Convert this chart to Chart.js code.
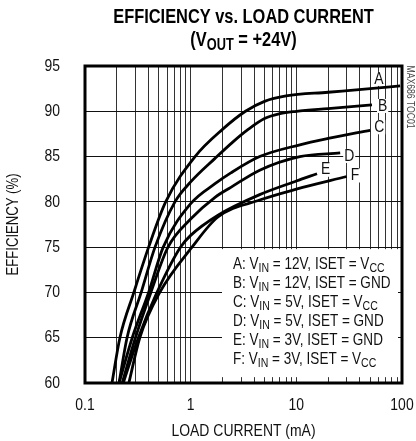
<!DOCTYPE html>
<html>
<head>
<meta charset="utf-8">
<script src="https://cdn.jsdelivr.net/npm/chart.js@4.4.0/dist/chart.umd.min.js"></script>
<style>
  html, body { margin: 0; padding: 0; background: #fff; }
  #wrap { width: 416px; height: 441px; }
</style>
</head>
<body>
<div id="wrap"><canvas id="c"></canvas></div>
<script>
const FONT = '"Liberation Sans", Arial, sans-serif';
const NARROW = 0.82; // squeeze to look like Arial Narrow

// load current (mA) / efficiency (%) per curve
const currentA = [0.18, 0.214, 0.29, 0.4, 0.58, 1.1, 2, 3.3, 5, 8, 20, 50, 96];
const effA     = [60, 65, 70, 75, 80, 85, 88.0, 90.0, 91.1, 91.7, 92.1, 92.5, 92.8];
const currentB = [0.21, 0.25, 0.34, 0.46, 0.71, 1.0, 1.7, 2.5, 3.5, 5, 7, 10, 20, 52];
const effB     = [60, 65, 70, 75, 80, 82.2, 84.8, 86.6, 88.0, 89.2, 89.75, 90.0, 90.3, 90.7];
const currentC = [0.21, 0.28, 0.4, 0.55, 1.0, 1.7, 2.4, 4.5, 10.8, 20, 50];
const effC     = [60, 65, 70, 75, 79.8, 82.0, 83.2, 85.0, 86.3, 87.0, 87.9];
const currentD = [0.225, 0.3, 0.42, 0.61, 1.0, 1.7, 2.4, 4.5, 10.8, 26];
const effD     = [60, 65, 70, 75, 78.1, 80.5, 81.6, 83.5, 85.0, 85.4];
const currentE = [0.23, 0.32, 0.48, 0.8, 1.0, 1.8, 4.5, 10, 15.7];
const effE     = [60, 65, 70, 75, 76.3, 78.5, 80.8, 82.3, 83.1];
const currentF = [0.26, 0.33, 0.51, 1.03, 1.8, 4.5, 10, 30];
const effF     = [60, 65, 70, 75, 78.3, 80.2, 81.4, 82.8];

const curveNames = ['A', 'B', 'C', 'D', 'E', 'F'];
const legendLines = [
  [['A: V'], ['IN', 1], [' = 12V, ISET = V'], ['CC', 1]],
  [['B: V'], ['IN', 1], [' = 12V, ISET = GND']],
  [['C: V'], ['IN', 1], [' = 5V, ISET = V'], ['CC', 1]],
  [['D: V'], ['IN', 1], [' = 5V, ISET = GND']],
  [['E: V'], ['IN', 1], [' = 3V, ISET = GND']],
  [['F: V'], ['IN', 1], [' = 3V, ISET = V'], ['CC', 1]]
];

const yTicks = [60, 65, 70, 75, 80, 85, 90, 95];
const xTickLabels = [0.1, 1, 10, 100];

// label offsets from the end of each curve (px)
const letterOffsets = [[-26, -7], [6, 1], [4, -3], [4, 3], [4, -4], [4, -1]];

const series = [
  [currentA, effA], [currentB, effB], [currentC, effC],
  [currentD, effD], [currentE, effE], [currentF, effF]
];

const gridValues = [];
for (let e = -1; e < 2; e++) {
  for (let m = 1; m < 10; m++) gridValues.push(+(m * Math.pow(10, e)).toFixed(3));
}
gridValues.push(100);

function rich(ctx, parts, x, y, size, bold, align, baseline) {
  const f = s => (bold ? 'bold ' : '') + s + 'px ' + FONT;
  let w = 0;
  parts.forEach(p => { ctx.font = f(p[1] ? size * 0.78 : size); w += ctx.measureText(p[0]).width; });
  ctx.save();
  ctx.translate(x, y);
  ctx.scale(NARROW, 1);
  let cx = align === 'center' ? -w / 2 : align === 'right' ? -w : 0;
  ctx.textAlign = 'left';
  ctx.textBaseline = baseline || 'alphabetic';
  parts.forEach(p => {
    ctx.font = f(p[1] ? size * 0.78 : size);
    ctx.fillText(p[0], cx, p[1] ? size * 0.2 : 0);
    cx += ctx.measureText(p[0]).width;
  });
  ctx.restore();
  return w * NARROW;
}

const decor = {
  id: 'decor',
  beforeDatasetsDraw(chart) {
    const { ctx, chartArea: a, scales: { x, y } } = chart;
    ctx.save();
    // legend box
    ctx.fillStyle = '#fff';
    ctx.fillRect(a.left + 137, y.getPixelForValue(75) + 2, 176, 128);
    ctx.fillStyle = '#111';
    legendLines.forEach((ln, i) => rich(ctx, ln, a.left + 148, 269 + i * 19, 16.5, false));
    // curve letters
    ctx.font = '17px ' + FONT;
    series.forEach((s, i) => {
      const n = s[0].length - 1;
      const px = x.getPixelForValue(s[0][n]) + letterOffsets[i][0];
      const py = y.getPixelForValue(s[1][n]) + letterOffsets[i][1];
      const w = ctx.measureText(curveNames[i]).width * NARROW;
      ctx.fillStyle = '#fff';
      ctx.fillRect(px - 1, py - 7, w + 2, 14);
      ctx.fillStyle = '#111';
      rich(ctx, [[curveNames[i]]], px, py, 17, false, 'left', 'middle');
    });
    ctx.restore();
  },
  afterDraw(chart) {
    const { ctx, chartArea: a, scales: { x, y } } = chart;
    ctx.save();
    ctx.strokeStyle = '#000';
    ctx.lineWidth = 3;
    ctx.strokeRect(a.left, a.top, a.right - a.left, a.bottom - a.top);
    ctx.fillStyle = '#111';
    // tick labels from the scales
    y.ticks.forEach(t => rich(ctx, [[String(t.value)]], 60, y.getPixelForValue(t.value), 17, false, 'right', 'middle'));
    x.ticks.filter(t => xTickLabels.some(v => Math.abs(v - t.value) < 1e-9))
      .forEach(t => rich(ctx, [[String(t.value)]], x.getPixelForValue(t.value), 410, 17, false, 'center'));
    const cx = (a.left + a.right) / 2;
    ctx.fillStyle = '#000';
    rich(ctx, [['EFFICIENCY vs. LOAD CURRENT']], cx, 23, 20, true, 'center');
    rich(ctx, [['(V'], ['OUT', 1], [' = +24V)']], cx, 46, 20, true, 'center');
    ctx.fillStyle = '#111';
    rich(ctx, [['LOAD CURRENT (mA)']], cx, 436, 17, false, 'center');
    ctx.save();
    ctx.translate(18, (a.top + a.bottom) / 2);
    ctx.rotate(-Math.PI / 2);
    rich(ctx, [['EFFICIENCY (%)']], 0, 0, 16, false, 'center');
    ctx.restore();
    ctx.save();
    ctx.translate(407, 97);
    ctx.rotate(Math.PI / 2);
    ctx.fillStyle = '#444';
    rich(ctx, [['MAX686 TOC01']], 0, 0, 10.5, false, 'center');
    ctx.restore();
    ctx.restore();
  }
};

new Chart(document.getElementById('c'), {
  type: 'line',
  data: {
    datasets: series.map((s, i) => ({
      label: curveNames[i],
      data: s[0].map((v, j) => ({ x: v, y: s[1][j] })),
      borderColor: '#000',
      borderWidth: 2.8,
      pointRadius: 0,
      fill: false,
      cubicInterpolationMode: 'monotone'
    }))
  },
  options: {
    responsive: true,
    maintainAspectRatio: false,
    animation: false,
    layout: { padding: { top: 66, right: 14, left: 0, bottom: 0 } },
    plugins: { legend: { display: false }, tooltip: { enabled: false } },
    scales: {
      x: {
        type: 'logarithmic',
        min: 0.1, max: 100,
        afterBuildTicks: s => { s.ticks = gridValues.map(v => ({ value: v })); },
        afterFit: s => { s.height = 58; },
        grid: { color: '#333', lineWidth: 1, drawTicks: false },
        border: { display: false },
        ticks: { display: false }
      },
      y: {
        min: 60, max: 95,
        afterBuildTicks: s => { s.ticks = yTicks.map(v => ({ value: v })); },
        afterFit: s => { s.width = 85; },
        grid: { color: '#111', lineWidth: 1, drawTicks: false },
        border: { display: false },
        ticks: { display: false }
      }
    }
  },
  plugins: [decor]
});
</script>
</body>
</html>
